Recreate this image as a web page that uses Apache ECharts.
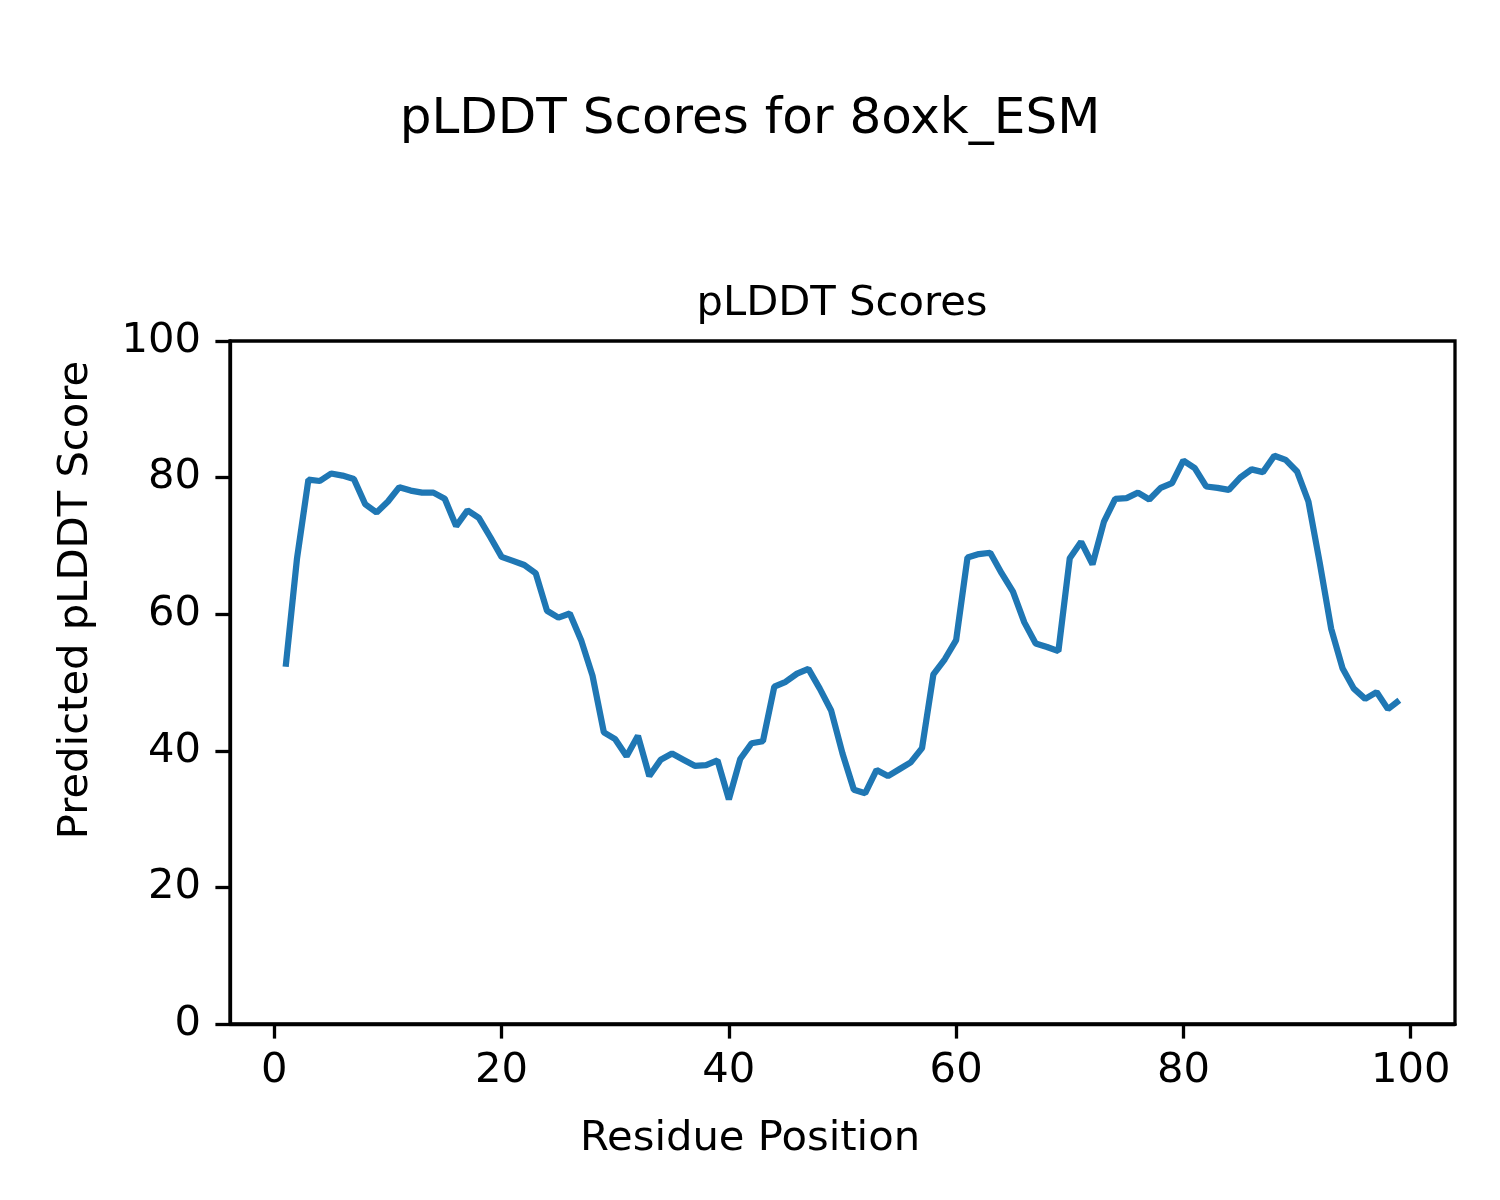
<!DOCTYPE html>
<html>
<head>
<meta charset="utf-8">
<script src="https://cdn.jsdelivr.net/npm/echarts@6/dist/echarts.min.js"></script>
<style>
html, body { margin: 0; padding: 0; background: #ffffff; }
#chart { width: 1500px; height: 1200px; }
</style>
</head>
<body>
<div id="chart"></div>
<script>
// ---- data ----
const residues = [
  1, 2, 3, 4, 5, 6, 7, 8, 9, 10,
  11, 12, 13, 14, 15, 16, 17, 18, 19, 20,
  21, 22, 23, 24, 25, 26, 27, 28, 29, 30,
  31, 32, 33, 34, 35, 36, 37, 38, 39, 40,
  41, 42, 43, 44, 45, 46, 47, 48, 49, 50,
  51, 52, 53, 54, 55, 56, 57, 58, 59, 60,
  61, 62, 63, 64, 65, 66, 67, 68, 69, 70,
  71, 72, 73, 74, 75, 76, 77, 78, 79, 80,
  81, 82, 83, 84, 85, 86, 87, 88, 89, 90,
  91, 92, 93, 94, 95, 96, 97, 98, 99
];
const plddt = [
  52.3, 68.2, 79.7, 79.5, 80.6, 80.3, 79.8, 76.1, 74.9, 76.5,
  78.6, 78.1, 77.8, 77.8, 76.9, 72.9, 75.2, 74.1, 71.3, 68.4,
  67.8, 67.2, 66.0, 60.5, 59.5, 60.1, 56.2, 51.0, 42.7, 41.7,
  39.2, 42.2, 36.3, 38.7, 39.6, 38.7, 37.8, 37.9, 38.6, 32.9,
  38.8, 41.1, 41.4, 49.4, 50.1, 51.3, 52.0, 49.1, 45.9, 39.6,
  34.3, 33.8, 37.2, 36.3, 37.3, 38.3, 40.4, 51.2, 53.4, 56.2,
  68.3, 68.8, 69.0, 66.0, 63.3, 58.8, 55.7, 55.2, 54.6, 68.2,
  70.6, 67.3, 73.5, 76.9, 77.0, 77.8, 76.8, 78.5, 79.2, 82.5,
  81.4, 78.7, 78.5, 78.2, 80.0, 81.2, 80.8, 83.2, 82.6, 80.9,
  76.5, 67.5, 57.9, 52.1, 49.1, 47.6, 48.6, 46.1, 47.4
];
const xTicks = [0, 20, 40, 60, 80, 100];
const yTicks = [0, 20, 40, 60, 80, 100];
const figTitle = 'pLDDT Scores for 8oxk_ESM';
const axesTitle = 'pLDDT Scores';
const xLabel = 'Residue Position';
const yLabel = 'Predicted pLDDT Score';

const FONT = 'DejaVu Sans';
const seriesData = residues.map((r, i) => [r, plddt[i]]);

const chart = echarts.init(document.getElementById('chart'), null, { renderer: 'canvas' });
const option = {
  backgroundColor: '#ffffff',
  animation: false,
  title: {
    text: figTitle,
    left: 'center',
    top: 95,
    padding: 0,
    textStyle: { fontFamily: FONT, fontSize: 50, fontWeight: 'normal', color: '#000' }
  },
  grid: {
    left: 230, right: 45, top: 341, bottom: 176,
    show: true, borderColor: '#000', borderWidth: 3.3, backgroundColor: 'transparent'
  },
  xAxis: {
    type: 'value',
    min: -3.9,
    max: 103.9,
    axisLine: { show: true, onZero: false, lineStyle: { color: '#000', width: 3.3 } },
    axisTick: { show: true, inside: false, length: 14.6, customValues: xTicks, lineStyle: { color: '#000', width: 3.3 } },
    axisLabel: { customValues: xTicks, margin: 26, fontFamily: FONT, fontSize: 41.7, color: '#000' },
    splitLine: { show: false }
  },
  yAxis: {
    type: 'value',
    min: 0,
    max: 100,
    interval: 20,
    axisLine: { show: true, onZero: false, lineStyle: { color: '#000', width: 3.3 } },
    axisTick: { show: true, inside: false, length: 14.6, customValues: yTicks, lineStyle: { color: '#000', width: 3.3 } },
    axisLabel: { customValues: yTicks, margin: 29, fontFamily: FONT, fontSize: 41.7, color: '#000' },
    splitLine: { show: false }
  },
  graphic: [
    {
      type: 'text', x: 842, y: 304,
      style: { text: axesTitle, fontFamily: FONT, fontSize: 41.7, fill: '#000', align: 'center', verticalAlign: 'middle' }
    },
    {
      type: 'text', x: 750, y: 1139,
      style: { text: xLabel, fontFamily: FONT, fontSize: 41.7, fill: '#000', align: 'center', verticalAlign: 'middle' }
    },
    {
      type: 'text', x: 76, y: 600, rotation: Math.PI / 2,
      style: { text: yLabel, fontFamily: FONT, fontSize: 41.7, fill: '#000', align: 'center', verticalAlign: 'middle' }
    }
  ],
  series: [{
    type: 'line',
    data: seriesData,
    showSymbol: false,
    symbol: 'none',
    lineStyle: { color: '#1f77b4', width: 6.25 },
    itemStyle: { color: '#1f77b4' },
    emphasis: { disabled: true }
  }]
};
chart.setOption(option);
</script>
</body>
</html>
